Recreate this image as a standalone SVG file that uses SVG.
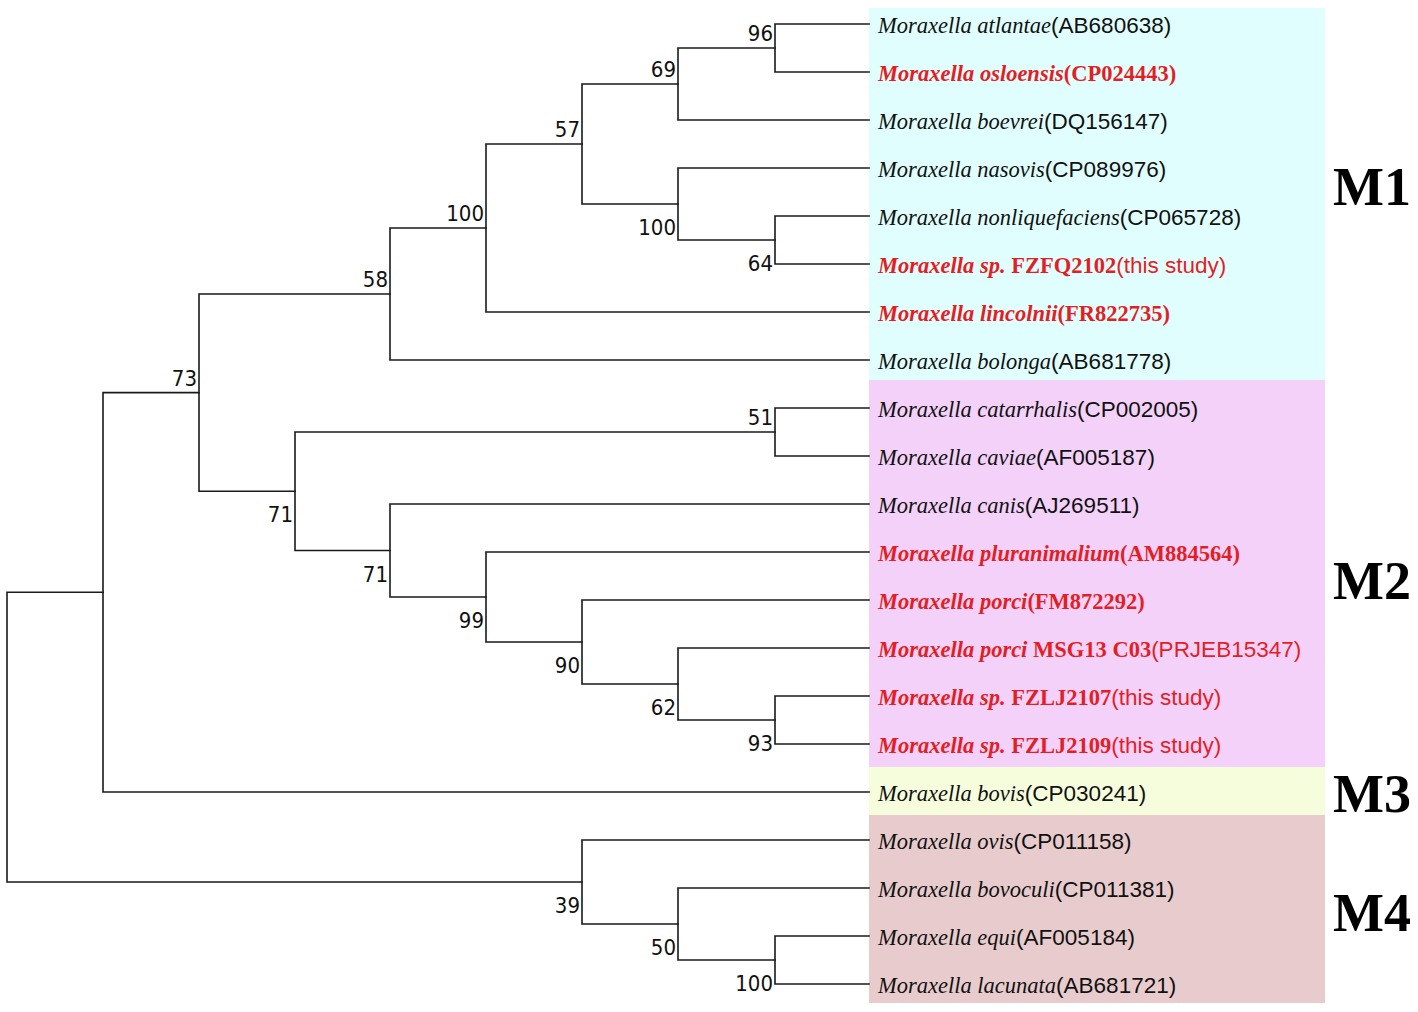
<svg xmlns="http://www.w3.org/2000/svg" width="1418" height="1012" viewBox="0 0 1418 1012">
<style>
.bg{stroke:none}
.br{fill:none;stroke:#1a1a1a;stroke-width:1.6;stroke-linecap:square}
.bs{font-family:"DejaVu Sans Condensed","DejaVu Sans",sans-serif;font-size:22px;fill:#111;text-anchor:end}
.lf{font-size:22.5px;fill:#111}
.it{font-family:"Liberation Serif","Times New Roman",serif;font-style:italic}
.ac{font-family:"Liberation Sans",Arial,sans-serif}
.bd{font-family:"Liberation Serif","Times New Roman",serif;font-weight:bold}
.bi{font-family:"Liberation Serif","Times New Roman",serif;font-weight:bold;font-style:italic}
.red{fill:#e31e25}
.grp{font-family:"Liberation Serif","Times New Roman",serif;font-weight:bold;font-size:54px;fill:#000}
</style>
<g id="clade-backgrounds">
<rect class="bg" x="869" y="8" width="456" height="372" fill="#e0fefe"/>
<rect class="bg" x="869" y="380" width="456" height="387" fill="#f3d1f9"/>
<rect class="bg" x="869" y="767" width="456" height="48" fill="#f6fddd"/>
<rect class="bg" x="869" y="815" width="456" height="188" fill="#e8cccd"/>
</g>
<g id="connectors">
<path class="br" d="M869 24H775V72H869"/>
<path class="br" d="M775 48H678V120H869"/>
<path class="br" d="M869 216H775V264H869"/>
<path class="br" d="M869 168H678V240H775"/>
<path class="br" d="M678 84H582V204H678"/>
<path class="br" d="M582 144H486V312H869"/>
<path class="br" d="M486 228H390V360H869"/>
<path class="br" d="M869 408H775V456H869"/>
<path class="br" d="M869 696H775V744H869"/>
<path class="br" d="M869 648H678V720H775"/>
<path class="br" d="M869 600H582V684H678"/>
<path class="br" d="M869 552H486V642H582"/>
<path class="br" d="M869 504H390V597H486"/>
<path class="br" d="M775 432H295V550.5H390"/>
<path class="br" d="M390 294H199V491.25H295"/>
<path class="br" d="M199 392.6H103V792H869"/>
<path class="br" d="M869 936H775V984H869"/>
<path class="br" d="M869 888H678V960H775"/>
<path class="br" d="M869 840H582V924H678"/>
<path class="br" d="M103 592.3H7V882H582"/>
</g>
<g id="bootstrap">
<text class="bs" x="773" y="41">96</text>
<text class="bs" x="676" y="77">69</text>
<text class="bs" x="580" y="137">57</text>
<text class="bs" x="484" y="221">100</text>
<text class="bs" x="388" y="287">58</text>
<text class="bs" x="197" y="385.6">73</text>
<text class="bs" x="773" y="425">51</text>
<text class="bs" x="676" y="235">100</text>
<text class="bs" x="773" y="271">64</text>
<text class="bs" x="293" y="522">71</text>
<text class="bs" x="388" y="581.5">71</text>
<text class="bs" x="484" y="628">99</text>
<text class="bs" x="580" y="673">90</text>
<text class="bs" x="676" y="715">62</text>
<text class="bs" x="773" y="751">93</text>
<text class="bs" x="580" y="913">39</text>
<text class="bs" x="676" y="955">50</text>
<text class="bs" x="773" y="991">100</text>
</g>
<g id="leaf-atlantae"><text class="lf" x="878" y="33"><tspan class="it">Moraxella atlantae</tspan><tspan class="ac">(AB680638)</tspan></text></g>
<g id="leaf-osloensis"><text class="lf red" x="878" y="81"><tspan class="bi">Moraxella osloensis</tspan><tspan class="bd">(CP024443)</tspan></text></g>
<g id="leaf-boevrei"><text class="lf" x="878" y="129"><tspan class="it">Moraxella boevrei</tspan><tspan class="ac">(DQ156147)</tspan></text></g>
<g id="leaf-nasovis"><text class="lf" x="878" y="177"><tspan class="it">Moraxella nasovis</tspan><tspan class="ac">(CP089976)</tspan></text></g>
<g id="leaf-nonliquefaciens"><text class="lf" x="878" y="225"><tspan class="it">Moraxella nonliquefaciens</tspan><tspan class="ac">(CP065728)</tspan></text></g>
<g id="leaf-FZFQ2102"><text class="lf red" x="878" y="273"><tspan class="bi">Moraxella sp.</tspan><tspan class="bd"> FZFQ2102</tspan><tspan class="ac">(this study)</tspan></text></g>
<g id="leaf-lincolnii"><text class="lf red" x="878" y="321"><tspan class="bi">Moraxella lincolnii</tspan><tspan class="bd">(FR822735)</tspan></text></g>
<g id="leaf-bolonga"><text class="lf" x="878" y="369"><tspan class="it">Moraxella bolonga</tspan><tspan class="ac">(AB681778)</tspan></text></g>
<g id="leaf-catarrhalis"><text class="lf" x="878" y="417"><tspan class="it">Moraxella catarrhalis</tspan><tspan class="ac">(CP002005)</tspan></text></g>
<g id="leaf-caviae"><text class="lf" x="878" y="465"><tspan class="it">Moraxella caviae</tspan><tspan class="ac">(AF005187)</tspan></text></g>
<g id="leaf-canis"><text class="lf" x="878" y="513"><tspan class="it">Moraxella canis</tspan><tspan class="ac">(AJ269511)</tspan></text></g>
<g id="leaf-pluranimalium"><text class="lf red" x="878" y="561"><tspan class="bi">Moraxella pluranimalium</tspan><tspan class="bd">(AM884564)</tspan></text></g>
<g id="leaf-porci"><text class="lf red" x="878" y="609"><tspan class="bi">Moraxella porci</tspan><tspan class="bd">(FM872292)</tspan></text></g>
<g id="leaf-porci-MSG13"><text class="lf red" x="878" y="657"><tspan class="bi">Moraxella porci</tspan><tspan class="bd"> MSG13 C03</tspan><tspan class="ac">(PRJEB15347)</tspan></text></g>
<g id="leaf-FZLJ2107"><text class="lf red" x="878" y="705"><tspan class="bi">Moraxella sp.</tspan><tspan class="bd"> FZLJ2107</tspan><tspan class="ac">(this study)</tspan></text></g>
<g id="leaf-FZLJ2109"><text class="lf red" x="878" y="753"><tspan class="bi">Moraxella sp.</tspan><tspan class="bd"> FZLJ2109</tspan><tspan class="ac">(this study)</tspan></text></g>
<g id="leaf-bovis"><text class="lf" x="878" y="801"><tspan class="it">Moraxella bovis</tspan><tspan class="ac">(CP030241)</tspan></text></g>
<g id="leaf-ovis"><text class="lf" x="878" y="849"><tspan class="it">Moraxella ovis</tspan><tspan class="ac">(CP011158)</tspan></text></g>
<g id="leaf-bovoculi"><text class="lf" x="878" y="897"><tspan class="it">Moraxella bovoculi</tspan><tspan class="ac">(CP011381)</tspan></text></g>
<g id="leaf-equi"><text class="lf" x="878" y="945"><tspan class="it">Moraxella equi</tspan><tspan class="ac">(AF005184)</tspan></text></g>
<g id="leaf-lacunata"><text class="lf" x="878" y="993"><tspan class="it">Moraxella lacunata</tspan><tspan class="ac">(AB681721)</tspan></text></g>
<g id="group-labels">
<text class="grp" x="1333" y="205">M1</text>
<text class="grp" x="1333" y="599">M2</text>
<text class="grp" x="1333" y="812">M3</text>
<text class="grp" x="1333" y="931">M4</text>
</g>
</svg>
